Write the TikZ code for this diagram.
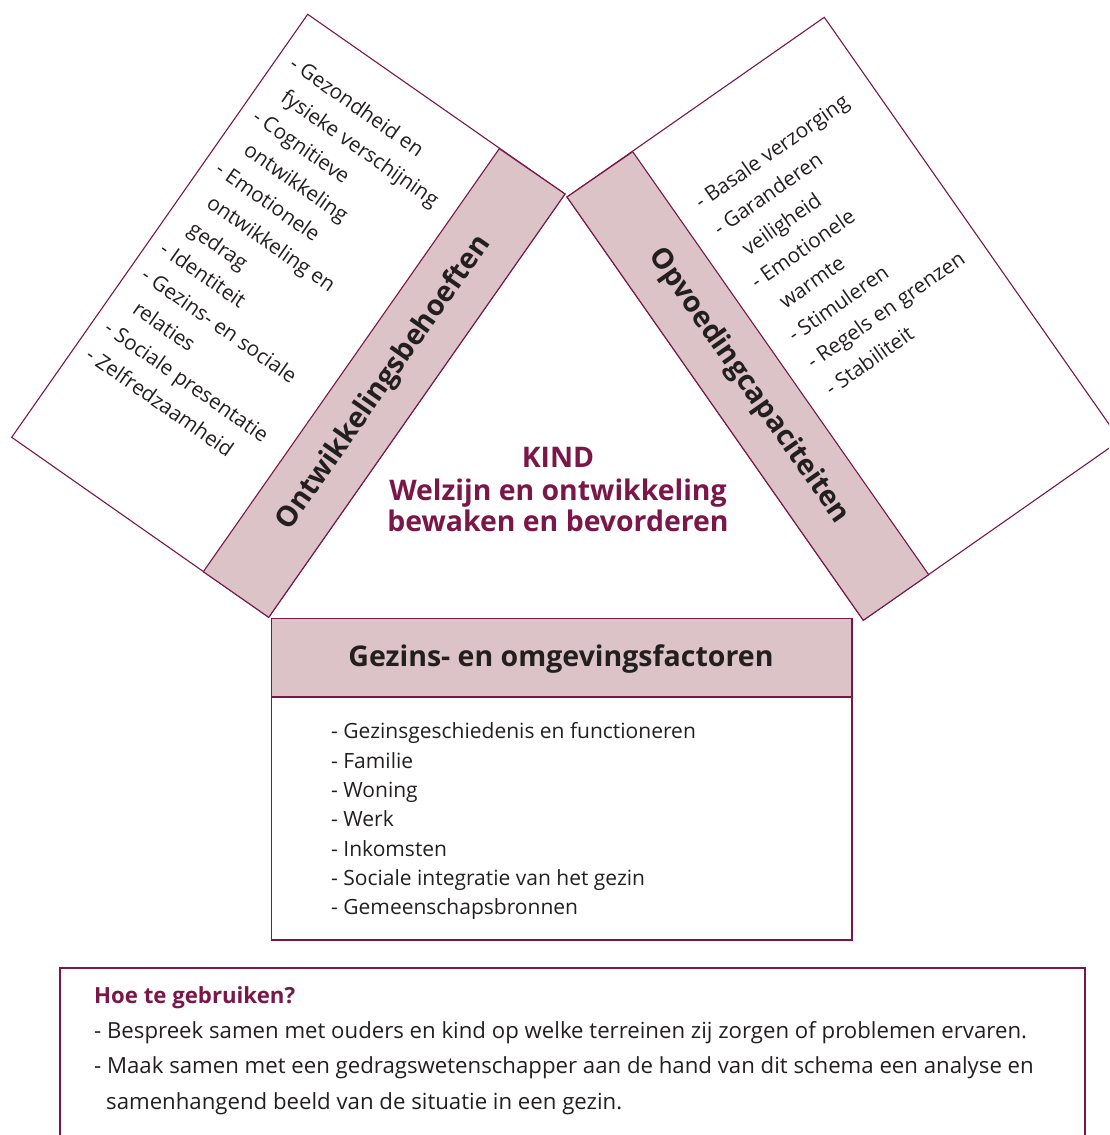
\documentclass[tikz,border=0pt]{standalone}
\usepackage{fontspec}
\setmainfont{Open Sans}
\definecolor{maroon}{HTML}{7A1648}
\definecolor{rose}{HTML}{DBC3C7}
\definecolor{ink}{HTML}{231F20}
\begin{document}
\begin{tikzpicture}[x=1pt,y=1pt,
  frame/.style={draw=maroon, line width=1.1pt},
  bandbox/.style={frame, fill=rose},
  listline/.style={anchor=base west, inner sep=0pt, text=ink, font=\fontsize{20.7}{24}\selectfont},
  boxline/.style={anchor=base west, inner sep=0pt, text=ink, font=\fontsize{21}{25}\selectfont},
  noteline/.style={anchor=base west, inner sep=0pt, text=ink, font=\fontsize{22.2}{26}\selectfont},
  bandtitle/.style={inner sep=0pt, text=ink, font=\fontsize{28.5}{32}\selectfont\bfseries},
  kindline/.style={anchor=base, inner sep=0pt, text=maroon, font=\fontsize{28.4}{32}\selectfont\bfseries}]
\useasboundingbox (0,0) rectangle (1109,1135);
\clip (0,0) rectangle (1109,1135);

% left rotated box
\coordinate (LT) at (307.7,1120.7);
\coordinate (LR) at (565,941);
\coordinate (LB) at (268.7,517.7);
\coordinate (LL) at (11.7,697.7);
\coordinate (LP1) at (499.3,986.3);
\coordinate (LP2) at (203.3,563.3);
\draw[frame] (LT) -- (LR) -- (LB) -- (LL) -- cycle;
\draw[bandbox] (LP1) -- (LR) -- (LB) -- (LP2) -- cycle;

% right rotated box
\coordinate (RT) at (824.3,1117.7);
\coordinate (RL) at (567,938);
\coordinate (RB) at (863.3,514.7);
\coordinate (RR) at (1120.3,694.7);
\coordinate (RP1) at (632.7,983.3);
\coordinate (RP2) at (928.7,560.3);
\draw[frame] (RT) -- (RR) -- (RB) -- (RL) -- cycle;
\draw[bandbox] (RP1) -- (RL) -- (RB) -- (RP2) -- cycle;

\node[bandtitle, rotate=55] (ontw) at (384.1,752) {Ontwikkelingsbehoeften};
\node[bandtitle, rotate=-55] (opvo) at (748.5,749) {Opvoedingcapaciteiten};

% left list
\begin{scope}[shift={(288,1068)}, rotate=-35, transform shape]
\foreach \t [count=\i] in {{- Gezondheid en},{\hphantom{- }fysieke verschijning},{- Cognitieve},{\hphantom{- }ontwikkeling},{- Emotionele},{\hphantom{- }ontwikkeling en},{\hphantom{- }gedrag},{- Identiteit},{- Gezins- en sociale},{\hphantom{- }relaties},{- Sociale presentatie},{- Zelfredzaamheid}}
  \node[listline] (la\i) at (0,{-32.3*(\i-1)}) {\t};
\end{scope}

% right list
\begin{scope}[shift={(701,925)}, rotate=35, transform shape]
\foreach \t [count=\i] in {{- Basale verzorging},{- Garanderen},{\hphantom{- }veiligheid},{- Emotionele},{\hphantom{- }warmte},{- Stimuleren},{- Regels en grenzen},{- Stabiliteit}}
  \node[listline] (ra\i) at (0,{-32.5*(\i-1)}) {\t};
\end{scope}

% centre text
\node[kindline] (kind1) at (558,667) {KIND};
\node[kindline] (kind2) at (558,634) {Welzijn en ontwikkeling};
\node[kindline] (kind3) at (558,603) {bewaken en bevorderen};

% bottom central box
\draw[bandbox] (271.7,516.7) rectangle (852,438);
\draw[frame] (271.7,438) rectangle (852,195);
\node[bandtitle, anchor=base] (gez) at (561,468) {Gezins- en omgevingsfactoren};
\foreach \t [count=\i] in {{- Gezinsgeschiedenis en functioneren},{- Familie},{- Woning},{- Werk},{- Inkomsten},{- Sociale integratie van het gezin},{- Gemeenschapsbronnen}}
  \node[boxline] (ga\i) at (331,{396-29.3*(\i-1)}) {\t};

% note box
\draw[frame] (60,-5) -- (60,167) -- (1085,167) -- (1085,-5);
\node[noteline, text=maroon, font=\fontsize{22.2}{26}\selectfont\bfseries] (hoe) at (94,131) {Hoe te gebruiken?};
\node[noteline] (n1) at (94,96) {- Bespreek samen met ouders en kind op welke terreinen zij zorgen of problemen ervaren.};
\node[noteline] (n2) at (94,61) {- Maak samen met een gedragswetenschapper aan de hand van dit schema een analyse en};
\node[noteline] (n3) at (106,25) {samenhangend beeld van de situatie in een gezin.};
\end{tikzpicture}
\end{document}
